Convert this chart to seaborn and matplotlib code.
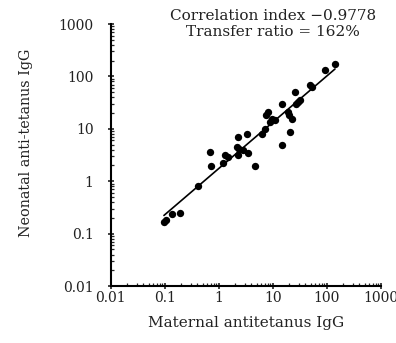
import numpy as np
import pandas as pd
import matplotlib
matplotlib.use("Agg")
import matplotlib.pyplot as plt
import seaborn as sns
from matplotlib.ticker import LogLocator, FixedLocator, FixedFormatter, NullFormatter

# Data
maternal_igg = [0.096, 0.104, 0.133, 0.19, 0.41, 0.68, 0.71, 1.17, 1.28, 1.46,
                2.25, 2.37, 2.8, 3.4, 4.6, 14.9, 2.13, 2.27, 3.26, 6.2,
                7.1, 7.6, 8.2, 9.5, 10.9, 8.9, 14.9, 19.2, 20.0, 22.2,
                20.6, 25.5, 26.5, 29.0, 31.6, 48.0, 54.0, 92.0, 141.0]
neonatal_igg = [0.17, 0.18, 0.235, 0.25, 0.81, 3.6, 1.95, 2.2, 3.1, 2.9,
                3.1, 4.2, 3.9, 3.4, 1.95, 4.85, 4.5, 7.0, 8.1, 8.1,
                10.1, 18.0, 21.0, 15.6, 14.5, 13.6, 30.0, 21.0, 18.0, 15.6,
                8.7, 50.0, 30.0, 32.0, 35.0, 68.0, 63.0, 135.0, 175.0]
tick_values = [0.01, 0.1, 1, 10, 100, 1000]
tick_labels = ["0.01", "0.1", "1", "10", "100", "1000"]
annotation = "Correlation index \u22120.9778\nTransfer ratio = 162%"

df = pd.DataFrame({"maternal": maternal_igg, "neonatal": neonatal_igg})

# regression in log-log space
slope, intercept = np.polyfit(np.log10(df["maternal"]), np.log10(df["neonatal"]), 1)
fit_x = np.array([df["maternal"].min(), df["maternal"].max()])
fit = pd.DataFrame({"x": fit_x, "y": 10 ** (intercept + slope * np.log10(fit_x))})

sns.set_theme(style="ticks")
plt.rcParams["font.family"] = ["DejaVu Serif"]

fig = plt.figure(figsize=(3.96, 3.43), dpi=100)
ax = fig.add_axes([0.280, 0.166, 0.682, 0.764])

sns.lineplot(data=fit, x="x", y="y", color="black", linewidth=1.2, ax=ax)
sns.scatterplot(data=df, x="maternal", y="neonatal", color="black", s=28,
                edgecolor="black", linewidth=0, ax=ax, zorder=3)

ax.set_xscale("log")
ax.set_yscale("log")
ax.set_xlim(0.01, 1000)
ax.set_ylim(0.01, 1000)

for axis in (ax.xaxis, ax.yaxis):
    axis.set_major_locator(FixedLocator(tick_values))
    axis.set_major_formatter(FixedFormatter(tick_labels))
    axis.set_minor_locator(LogLocator(base=10, subs=np.arange(2, 10), numticks=20))
    axis.set_minor_formatter(NullFormatter())

ax.tick_params(which="major", direction="inout", length=5, width=1.2, labelsize=10,
               colors="#222222")
ax.tick_params(axis="y", which="major", pad=10)
ax.tick_params(axis="x", which="major", pad=1)
ax.tick_params(which="minor", direction="in", length=2.5, width=0.9)
sns.despine(ax=ax)
for sp in ("left", "bottom"):
    ax.spines[sp].set_linewidth(1.5)
    ax.spines[sp].set_color("black")

ax.set_xlabel("Maternal antitetanus IgG", fontsize=11, labelpad=8, color="#222222")
ax.set_ylabel("Neonatal anti-tetanus IgG", fontsize=10.4, color="#222222")
ax.yaxis.set_label_coords(-0.29, 0.545)

fig.text(0.69, 0.93, annotation, ha="center", va="center", fontsize=11,
         linespacing=1.1, color="#222222")

fig.savefig("out.png", dpi=100)
